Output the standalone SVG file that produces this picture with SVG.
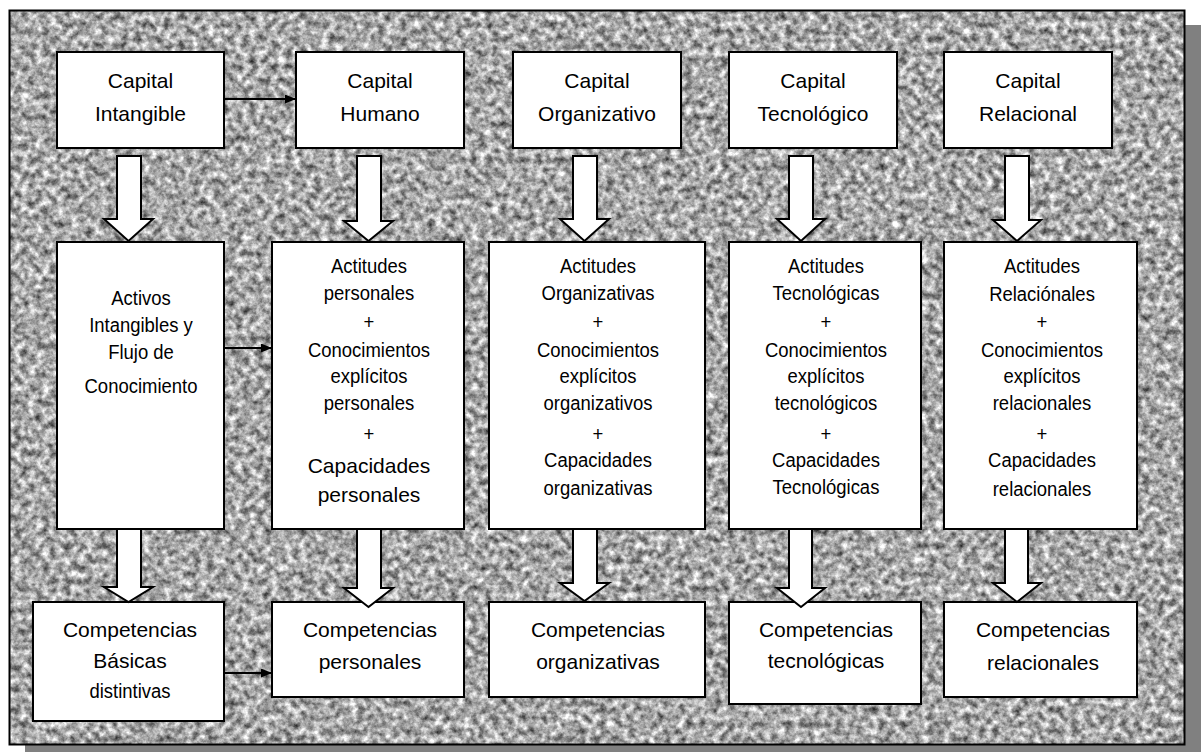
<svg xmlns="http://www.w3.org/2000/svg" width="1201" height="752" viewBox="0 0 1201 752">
  <defs>
    <!-- grey granite texture for the panel background -->
    <filter id="granite" x="0" y="0" width="100%" height="100%" color-interpolation-filters="sRGB">
      <feTurbulence type="fractalNoise" baseFrequency="0.14" numOctaves="4" seed="7" result="noise"/>
      <feColorMatrix in="noise" type="matrix"
        values="1.15 0 0 0 0.08
                1.15 0 0 0 0.08
                1.15 0 0 0 0.08
                0 0 0 0 1"/>
    </filter>
    <marker id="tip" markerUnits="userSpaceOnUse" markerWidth="11" markerHeight="9" refX="11" refY="4.5" orient="auto">
      <path d="M0,0 L11,4.5 L0,9 Z" fill="#000"/>
    </marker>
    <style>
      .box { fill: #fff; stroke: #000; stroke-width: 2; }
      .big { fill: #fff; stroke: #000; stroke-width: 2; stroke-linejoin: miter; }
      .thin { fill: none; stroke: #000; stroke-width: 2; marker-end: url(#tip); }
      text { font-family: "Liberation Sans", Arial, sans-serif; font-size: 21px; fill: #000; text-anchor: middle; }
      .n { transform-box: fill-box; transform-origin: center; transform: scaleX(0.88); }
    </style>
  </defs>

  <!-- drop shadow and textured panel -->
  <rect x="25" y="25" width="1176" height="727" fill="#808080"/>
  <rect x="9" y="10" width="1176" height="735" filter="url(#granite)"/>
  <rect x="9.5" y="10.5" width="1175" height="734" fill="none" stroke="#000" stroke-width="2"/>

  <!-- top row -->
  <g id="capital-intangible">
    <rect class="box" x="57" y="52" width="167" height="96"/>
    <text x="140.5" y="88">Capital</text>
    <text x="140.5" y="121">Intangible</text>
  </g>
  <g id="capital-humano">
    <rect class="box" x="296" y="52" width="168" height="96"/>
    <text x="380" y="88">Capital</text>
    <text x="380" y="121">Humano</text>
  </g>
  <g id="capital-organizativo">
    <rect class="box" x="513" y="52" width="168" height="96"/>
    <text x="597" y="88">Capital</text>
    <text x="597" y="121">Organizativo</text>
  </g>
  <g id="capital-tecnologico">
    <rect class="box" x="729" y="52" width="168" height="96"/>
    <text x="813" y="88">Capital</text>
    <text x="813" y="121">Tecnológico</text>
  </g>
  <g id="capital-relacional">
    <rect class="box" x="944" y="52" width="168" height="96"/>
    <text x="1028" y="88">Capital</text>
    <text x="1028" y="121">Relacional</text>
  </g>

  <!-- middle row -->
  <g id="activos-intangibles">
    <rect class="box" x="57" y="242" width="167" height="287"/>
    <text class="n" x="141" y="305">Activos</text>
    <text class="n" x="141" y="332">Intangibles  y</text>
    <text class="n" x="141" y="359">Flujo de</text>
    <text class="n" x="141" y="393">Conocimiento</text>
  </g>
  <g id="actitudes-personales">
    <rect class="box" x="272" y="242" width="192" height="287"/>
    <text class="n" x="369" y="273">Actitudes</text>
    <text class="n" x="369" y="300">personales</text>
    <text class="n" x="369" y="329">+</text>
    <text class="n" x="369" y="357">Conocimientos</text>
    <text class="n" x="369" y="383">explícitos</text>
    <text class="n" x="369" y="410">personales</text>
    <text class="n" x="369" y="441">+</text>
    <text x="369" y="473">Capacidades</text>
    <text x="369" y="502">personales</text>
  </g>
  <g id="actitudes-organizativas">
    <rect class="box" x="489" y="242" width="216" height="287"/>
    <text class="n" x="598" y="273">Actitudes</text>
    <text class="n" x="598" y="300">Organizativas</text>
    <text class="n" x="598" y="329">+</text>
    <text class="n" x="598" y="357">Conocimientos</text>
    <text class="n" x="598" y="383">explícitos</text>
    <text class="n" x="598" y="410">organizativos</text>
    <text class="n" x="598" y="441">+</text>
    <text class="n" x="598" y="467">Capacidades</text>
    <text class="n" x="598" y="495">organizativas</text>
  </g>
  <g id="actitudes-tecnologicas">
    <rect class="box" x="729" y="242" width="192" height="287"/>
    <text class="n" x="826" y="273">Actitudes</text>
    <text class="n" x="826" y="300">Tecnológicas</text>
    <text class="n" x="826" y="329">+</text>
    <text class="n" x="826" y="357">Conocimientos</text>
    <text class="n" x="826" y="383">explícitos</text>
    <text class="n" x="826" y="410">tecnológicos</text>
    <text class="n" x="826" y="441">+</text>
    <text class="n" x="826" y="467">Capacidades</text>
    <text class="n" x="826" y="494">Tecnológicas</text>
  </g>
  <g id="actitudes-relacionales">
    <rect class="box" x="944" y="242" width="193" height="287"/>
    <text class="n" x="1042" y="273">Actitudes</text>
    <text class="n" x="1042" y="301">Relaciónales</text>
    <text class="n" x="1042" y="329">+</text>
    <text class="n" x="1042" y="357">Conocimientos</text>
    <text class="n" x="1042" y="383">explícitos</text>
    <text class="n" x="1042" y="410">relacionales</text>
    <text class="n" x="1042" y="441">+</text>
    <text class="n" x="1042" y="467">Capacidades</text>
    <text class="n" x="1042" y="496">relacionales</text>
  </g>

  <!-- bottom row -->
  <g id="competencias-basicas">
    <rect class="box" x="33" y="602" width="191" height="119"/>
    <text x="130" y="637">Competencias</text>
    <text x="130" y="668">Básicas</text>
    <text class="n" x="130" y="698">distintivas</text>
  </g>
  <g id="competencias-personales">
    <rect class="box" x="272" y="602" width="192" height="95"/>
    <text x="370" y="637">Competencias</text>
    <text x="370" y="669">personales</text>
  </g>
  <g id="competencias-organizativas">
    <rect class="box" x="489" y="602" width="216" height="95"/>
    <text x="598" y="637">Competencias</text>
    <text x="598" y="669">organizativas</text>
  </g>
  <g id="competencias-tecnologicas">
    <rect class="box" x="729" y="602" width="192" height="102"/>
    <text x="826" y="637">Competencias</text>
    <text x="826" y="668">tecnológicas</text>
  </g>
  <g id="competencias-relacionales">
    <rect class="box" x="944" y="602" width="193" height="95"/>
    <text x="1043" y="637">Competencias</text>
    <text x="1043" y="670">relacionales</text>
  </g>

  <!-- connectors -->
  <g id="connectors">
    <line class="thin" x1="224" y1="99" x2="296" y2="99"/>
    <line class="thin" x1="224" y1="348" x2="272" y2="348"/>
    <line class="thin" x1="224" y1="673" x2="272" y2="673"/>

    <path class="big" d="M117,156 H141 V219 H153 L128.5,241 L104,219 H117 Z"/>
    <path class="big" d="M117,529 H141 V587 H153 L128.5,602 L104,587 H117 Z"/>
    <path class="big" d="M357,156 H381 V221 H393 L368.5,241 L344,221 H357 Z"/>
    <path class="big" d="M357,529 H381 V588 H393 L368.5,607 L344,588 H357 Z"/>
    <path class="big" d="M573,156 H597 V219 H609 L584.5,241 L560,219 H573 Z"/>
    <path class="big" d="M573,529 H597 V583 H609 L584.5,601 L560,583 H573 Z"/>
    <path class="big" d="M789,156 H813 V219 H825 L801,241 L777,219 H789 Z"/>
    <path class="big" d="M789,529 H812 V588 H825 L801,607 L777,588 H789 Z"/>
    <path class="big" d="M1005,156 H1029 V220 H1041 L1017,241 L993,220 H1005 Z"/>
    <path class="big" d="M1005,529 H1028 V583 H1041 L1017,602 L993,583 H1005 Z"/>
  </g>
</svg>
